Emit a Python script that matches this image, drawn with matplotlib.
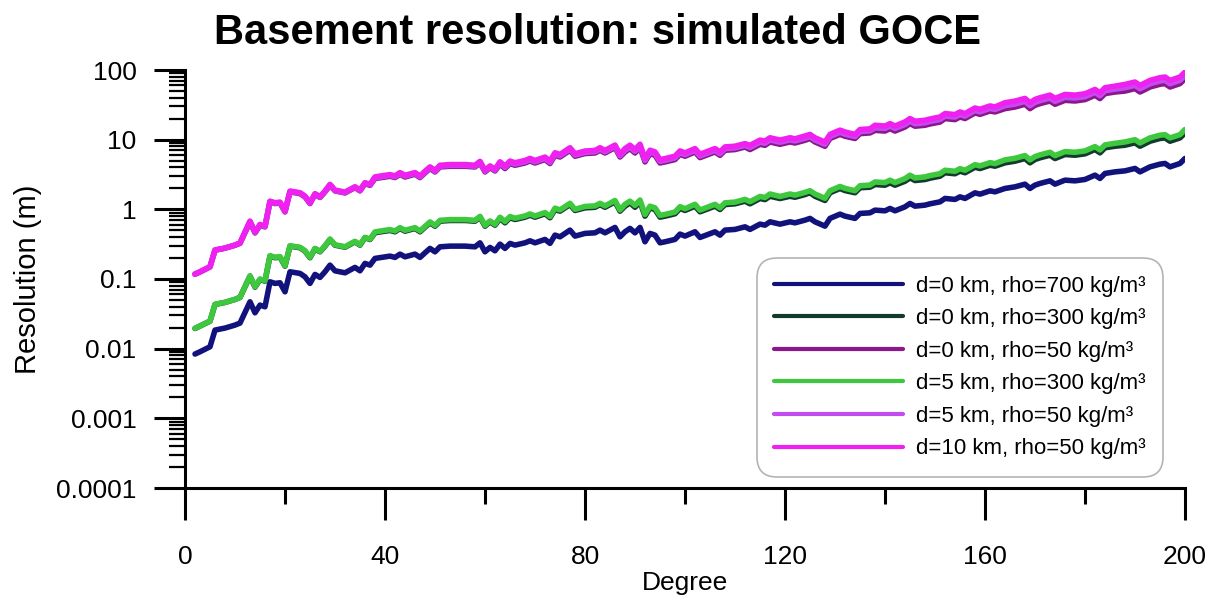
import matplotlib
matplotlib.use("Agg")
import matplotlib.pyplot as plt
from matplotlib.ticker import LogLocator, FixedLocator, NullFormatter

plt.rcParams['font.family'] = ['Liberation Sans', 'DejaVu Sans']

degree = [2, 3, 5, 6, 8, 10, 11, 13, 14, 15, 16, 17, 18, 19, 20, 21, 23, 24, 25, 26,
          27, 28, 29, 30, 32, 33, 34, 35, 36, 37, 38, 40, 41, 42, 43, 44, 46, 47, 48, 49,
          50, 51, 53, 56, 58, 59, 60, 61, 62, 63, 64, 65, 66, 68, 69, 70, 72, 73, 74, 75,
          77, 78, 80, 82, 83, 84, 86, 87, 88, 89, 90, 91, 92, 93, 94, 95, 96, 98, 99, 100,
          102, 103, 106, 107, 108, 110, 112, 113, 115, 116, 117, 119, 121, 122, 124, 125, 126, 128, 129, 131,
          132, 134, 135, 137, 138, 140, 141, 142, 144, 145, 146, 148, 149, 151, 152, 154, 155, 156, 158, 159,
          161, 162, 164, 166, 168, 169, 170, 171, 173, 174, 176, 178, 180, 182, 183, 184, 186, 188, 190, 191,
          193, 195, 196, 197, 199, 200]

d0_rho700 = [0.00837, 0.00903, 0.01065, 0.01849, 0.01975, 0.0218, 0.0233, 0.0471, 0.0327, 0.0422, 0.0399, 0.0912, 0.0865, 0.0882, 0.0655, 0.1269, 0.1203, 0.1075, 0.0865, 0.1164,
             0.1054, 0.1269, 0.1582, 0.1311, 0.1227, 0.1342, 0.1467, 0.1311, 0.1674, 0.1582, 0.1975, 0.2082, 0.2131, 0.2041, 0.2276, 0.2082, 0.2276, 0.2041, 0.2376, 0.2748,
             0.2456, 0.2897, 0.2965, 0.2965, 0.2897, 0.3306, 0.2456, 0.2839, 0.2539, 0.3168, 0.2748, 0.3243, 0.3064, 0.3306, 0.3533, 0.3306, 0.3700, 0.3243, 0.4264, 0.4032,
             0.5031, 0.4126, 0.4512, 0.4602, 0.5031, 0.4602, 0.5500, 0.4032, 0.476, 0.532, 0.460, 0.550, 0.342, 0.451, 0.426, 0.331, 0.342, 0.370, 0.441, 0.413,
             0.476, 0.395, 0.476, 0.426, 0.503, 0.515, 0.561, 0.515, 0.613, 0.593, 0.662, 0.613, 0.662, 0.640, 0.700, 0.741, 0.662, 0.574, 0.741, 0.853,
             0.799, 0.741, 0.873, 0.891, 0.974, 0.952, 1.030, 0.952, 1.086, 1.215, 1.111, 1.149, 1.200, 1.281, 1.434, 1.387, 1.511, 1.434, 1.725, 1.652,
             1.843, 1.783, 1.995, 2.103, 2.299, 1.995, 2.224, 2.353, 2.564, 2.299, 2.624, 2.564, 2.685, 3.095, 2.775, 3.274, 3.451, 3.567, 3.863, 3.451,
             4.073, 4.454, 4.556, 4.073, 4.556, 5.375]

d0_rho300 = [0.0195, 0.0211, 0.0248, 0.0431, 0.0461, 0.0509, 0.0544, 0.110, 0.0763, 0.0985, 0.0931, 0.213, 0.202, 0.206, 0.153, 0.296, 0.281, 0.251, 0.202, 0.272,
             0.246, 0.296, 0.369, 0.306, 0.286, 0.313, 0.342, 0.306, 0.391, 0.369, 0.461, 0.486, 0.497, 0.476, 0.531, 0.486, 0.531, 0.476, 0.554, 0.641,
             0.573, 0.676, 0.692, 0.692, 0.676, 0.771, 0.573, 0.662, 0.592, 0.739, 0.641, 0.757, 0.715, 0.771, 0.824, 0.771, 0.863, 0.757, 0.995, 0.941,
             1.17, 0.963, 1.05, 1.07, 1.17, 1.07, 1.28, 0.941, 1.11, 1.24, 1.07, 1.28, 0.798, 1.05, 0.994, 0.772, 0.798, 0.863, 1.03, 0.964,
             1.11, 0.922, 1.11, 0.994, 1.17, 1.20, 1.31, 1.20, 1.43, 1.38, 1.54, 1.43, 1.54, 1.49, 1.63, 1.73, 1.54, 1.34, 1.73, 1.99,
             1.86, 1.73, 2.04, 2.08, 2.27, 2.22, 2.40, 2.22, 2.53, 2.83, 2.59, 2.68, 2.80, 2.99, 3.35, 3.24, 3.53, 3.35, 4.02, 3.85,
             4.30, 4.16, 4.65, 4.91, 5.36, 4.65, 5.19, 5.49, 5.98, 5.36, 6.12, 5.98, 6.26, 7.22, 6.47, 7.64, 8.05, 8.32, 9.01, 8.05,
             9.50, 10.4, 10.6, 9.50, 10.6, 12.5]

d0_rho50 = [0.117, 0.126, 0.149, 0.259, 0.277, 0.305, 0.326, 0.659, 0.458, 0.591, 0.559, 1.28, 1.21, 1.23, 0.917, 1.78, 1.68, 1.51, 1.21, 1.63,
            1.48, 1.78, 2.21, 1.84, 1.72, 1.88, 2.05, 1.84, 2.34, 2.21, 2.77, 2.91, 2.98, 2.86, 3.19, 2.91, 3.19, 2.86, 3.33, 3.85,
            3.44, 4.06, 4.15, 4.15, 4.06, 4.63, 3.44, 3.97, 3.55, 4.44, 3.85, 4.54, 4.29, 4.63, 4.95, 4.63, 5.18, 4.54, 5.97, 5.64,
            7.04, 5.78, 6.32, 6.44, 7.04, 6.44, 7.70, 5.64, 6.66, 7.45, 6.44, 7.70, 4.79, 6.31, 5.96, 4.63, 4.79, 5.18, 6.17, 5.78,
            6.66, 5.53, 6.66, 5.96, 7.04, 7.21, 7.85, 7.21, 8.58, 8.30, 9.27, 8.58, 9.27, 8.96, 9.80, 10.4, 9.27, 8.04, 10.4, 11.9,
            11.2, 10.4, 12.2, 12.5, 13.6, 13.3, 14.4, 13.3, 15.2, 17.0, 15.6, 16.1, 16.8, 17.9, 20.1, 19.4, 21.2, 20.1, 24.2, 23.1,
            25.8, 25.0, 27.9, 29.4, 32.2, 27.9, 31.1, 32.9, 35.9, 32.2, 36.7, 35.9, 37.6, 43.3, 38.9, 45.8, 48.3, 49.9, 54.1, 48.3,
            57.0, 62.4, 63.8, 57.0, 63.8, 75.2]

d5_rho300 = [0.0196, 0.0211, 0.0249, 0.0433, 0.0462, 0.0510, 0.0545, 0.111, 0.0774, 0.0998, 0.0944, 0.216, 0.205, 0.209, 0.155, 0.300, 0.285, 0.254, 0.205, 0.275,
             0.249, 0.300, 0.374, 0.310, 0.290, 0.318, 0.347, 0.310, 0.396, 0.374, 0.474, 0.500, 0.511, 0.490, 0.546, 0.500, 0.546, 0.490, 0.570, 0.660,
             0.589, 0.695, 0.712, 0.712, 0.695, 0.793, 0.589, 0.681, 0.609, 0.770, 0.668, 0.788, 0.745, 0.803, 0.859, 0.803, 0.899, 0.788, 1.04, 0.980,
             1.22, 1.00, 1.10, 1.12, 1.22, 1.12, 1.34, 0.980, 1.18, 1.31, 1.14, 1.36, 0.845, 1.11, 1.05, 0.818, 0.845, 0.914, 1.09, 1.02,
             1.18, 0.976, 1.18, 1.05, 1.24, 1.27, 1.39, 1.29, 1.53, 1.48, 1.66, 1.53, 1.66, 1.60, 1.75, 1.85, 1.66, 1.44, 1.85, 2.13,
             2.00, 1.85, 2.18, 2.23, 2.47, 2.42, 2.62, 2.42, 2.76, 3.09, 2.82, 2.92, 3.05, 3.25, 3.64, 3.52, 3.84, 3.64, 4.38, 4.20,
             4.68, 4.53, 5.13, 5.40, 5.91, 5.13, 5.72, 6.05, 6.59, 5.91, 6.74, 6.59, 6.90, 7.95, 7.13, 8.41, 8.87, 9.27, 10.0, 8.97,
             10.6, 11.6, 11.8, 10.6, 11.8, 14.0]

d5_rho50 = [0.118, 0.127, 0.150, 0.260, 0.277, 0.306, 0.327, 0.669, 0.464, 0.599, 0.567, 1.30, 1.23, 1.25, 0.930, 1.80, 1.71, 1.53, 1.23, 1.65,
            1.50, 1.80, 2.25, 1.86, 1.74, 1.91, 2.08, 1.86, 2.38, 2.25, 2.84, 3.00, 3.07, 2.94, 3.28, 3.00, 3.28, 2.94, 3.42, 3.95,
            3.53, 4.17, 4.27, 4.27, 4.17, 4.76, 3.53, 4.09, 3.65, 4.63, 4.01, 4.73, 4.47, 4.83, 5.16, 4.83, 5.40, 4.73, 6.23, 5.89,
            7.35, 6.02, 6.59, 6.72, 7.35, 6.72, 8.03, 5.89, 7.04, 7.87, 6.81, 8.14, 5.06, 6.67, 6.30, 4.90, 5.06, 5.48, 6.53, 6.11,
            7.04, 5.85, 7.04, 6.30, 7.44, 7.62, 8.30, 7.73, 9.20, 8.90, 9.93, 9.20, 9.93, 9.60, 10.5, 11.1, 9.93, 8.61, 11.1, 12.8,
            12.0, 11.1, 13.1, 13.4, 14.8, 14.5, 15.7, 14.5, 16.5, 18.5, 16.9, 17.5, 18.3, 19.5, 21.8, 21.1, 23.0, 21.8, 26.3, 25.1,
            28.1, 27.1, 30.8, 32.4, 35.5, 30.8, 34.3, 36.3, 39.6, 35.5, 40.5, 39.6, 41.4, 47.8, 42.8, 50.5, 53.2, 55.6, 60.3, 53.8,
            63.5, 69.5, 71.1, 63.5, 71.1, 83.9]

d10_rho50 = [0.118, 0.127, 0.150, 0.261, 0.278, 0.307, 0.329, 0.678, 0.471, 0.607, 0.574, 1.31, 1.24, 1.27, 0.943, 1.83, 1.73, 1.55, 1.24, 1.68,
             1.52, 1.83, 2.28, 1.89, 1.77, 1.93, 2.11, 1.89, 2.41, 2.28, 2.92, 3.08, 3.15, 3.02, 3.37, 3.08, 3.37, 3.02, 3.52, 4.07,
             3.63, 4.29, 4.39, 4.39, 4.29, 4.89, 3.63, 4.20, 3.76, 4.82, 4.18, 4.94, 4.66, 5.03, 5.38, 5.03, 5.63, 4.94, 6.49, 6.14,
             7.66, 6.28, 6.87, 7.00, 7.66, 7.00, 8.37, 6.14, 7.45, 8.33, 7.20, 8.61, 5.35, 7.06, 6.67, 5.18, 5.35, 5.79, 6.90, 6.46,
             7.45, 6.18, 7.45, 6.67, 7.87, 8.06, 8.78, 8.29, 9.86, 9.54, 10.65, 9.86, 10.65, 10.3, 11.3, 11.9, 10.65, 9.24, 11.9, 13.7,
             12.9, 11.9, 14.0, 14.3, 16.1, 15.7, 17.0, 15.7, 18.0, 20.1, 18.4, 19.0, 19.8, 21.2, 23.7, 22.9, 25.0, 23.7, 28.5, 27.3,
             30.5, 29.5, 33.9, 35.8, 39.1, 33.9, 37.8, 40.0, 43.6, 39.1, 44.6, 43.6, 45.6, 52.6, 47.2, 55.7, 58.7, 62.1, 67.2, 60.0,
             70.9, 77.5, 79.3, 70.9, 79.3, 93.5]

series_labels = ["d=0 km, rho=700 kg/m\u00b3", "d=0 km, rho=300 kg/m\u00b3", "d=0 km, rho=50 kg/m\u00b3",
                 "d=5 km, rho=300 kg/m\u00b3", "d=5 km, rho=50 kg/m\u00b3", "d=10 km, rho=50 kg/m\u00b3"]
series_values = [d0_rho700, d0_rho300, d0_rho50, d5_rho300, d5_rho50, d10_rho50]
series_colors = ["#12127c", "#123a2e", "#8c168c", "#3ec83e", "#c24cf0", "#f020f0"]

x_major = [0, 40, 80, 120, 160, 200]
x_minor = [20, 60, 100, 140, 180]
y_ticks = [0.0001, 0.001, 0.01, 0.1, 1, 10, 100]
y_ticklabels = ["0.0001", "0.001", "0.01", "0.1", "1", "10", "100"]

fig = plt.figure(figsize=(12.2, 6.0), dpi=100)
ax = fig.add_axes([185 / 1220, 112 / 600, 1000 / 1220, 418 / 600])

for vals, lab, col in zip(series_values, series_labels, series_colors):
    ax.plot(degree, vals, color=col, lw=4.0, label=lab, solid_joinstyle='round', solid_capstyle='round')

ax.set_yscale('log')
ax.set_xlim(0, 200)
ax.set_ylim(1e-4, 100)

ax.xaxis.set_major_locator(FixedLocator(x_major))
ax.xaxis.set_minor_locator(FixedLocator(x_minor))
ax.set_xticklabels([str(v) for v in x_major])
ax.yaxis.set_major_locator(FixedLocator(y_ticks))
ax.set_yticklabels(y_ticklabels)
ax.yaxis.set_minor_locator(LogLocator(base=10, subs=[2, 3, 4, 5, 6, 7, 8, 9], numticks=20))
ax.yaxis.set_minor_formatter(NullFormatter())

for s in ['top', 'right']:
    ax.spines[s].set_visible(False)
for s in ['left', 'bottom']:
    ax.spines[s].set_linewidth(2.2)

ax.tick_params(axis='both', which='major', direction='out', width=2.2, labelsize=19, color='black')
ax.tick_params(axis='x', which='major', length=23, pad=18)
ax.tick_params(axis='x', which='minor', direction='out', length=11.5, width=2.2)
ax.tick_params(axis='y', which='major', length=22, pad=13)
ax.tick_params(axis='y', which='minor', direction='out', length=11.5, width=1.6)

ax.set_xlabel("Degree", fontsize=19)
ax.xaxis.set_label_coords(0.5, -0.198)
ax.set_ylabel("Resolution (m)", fontsize=21)
ax.yaxis.set_label_coords(-0.143, 0.5)

fig.text(597 / 1220, 1 - 44 / 600, "Basement resolution: simulated GOCE", fontsize=30,
         fontweight='bold', ha='center', va='baseline')

leg = ax.legend(loc='lower right', bbox_to_anchor=(0.978, 0.026), borderaxespad=0.0, fontsize=16,
                handlelength=5.8, handletextpad=0.55, labelspacing=0.52, borderpad=0.8,
                frameon=True, fancybox=True, edgecolor='#b4b4b4', framealpha=1.0)
leg.get_frame().set_linewidth(1.2)
leg.get_frame().set_boxstyle('round', pad=0, rounding_size=0.9)
for h in leg.get_lines():
    h.set_linewidth(3.0)

fig.savefig("out.png", dpi=100)
